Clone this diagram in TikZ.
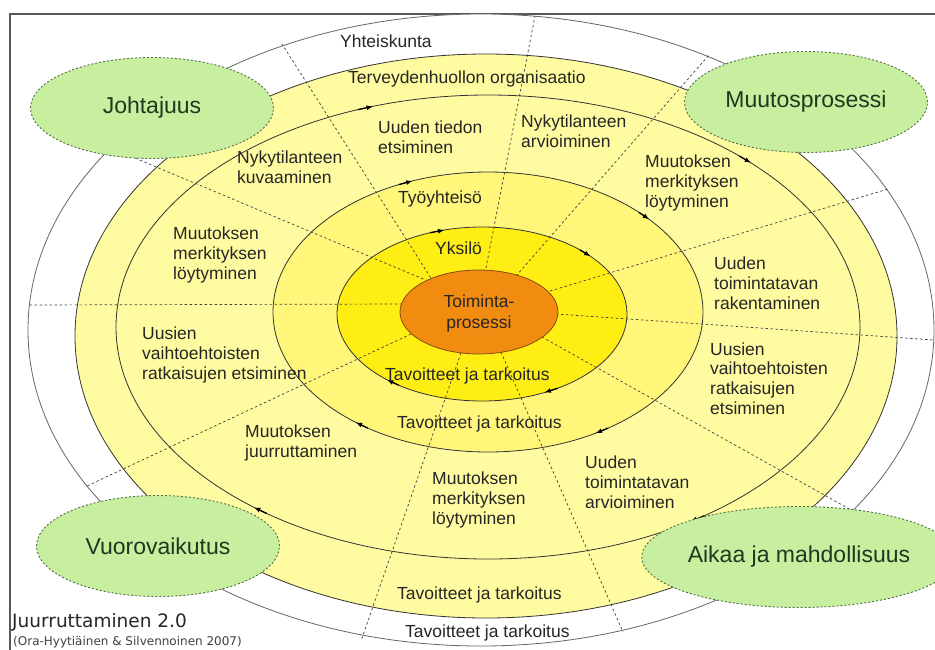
\documentclass[tikz,border=0pt]{standalone}
\usepackage{fontspec}
\setmainfont{Liberation Sans}
\newfontfamily\dejavu{DejaVu Sans}
\usetikzlibrary{shapes.geometric,arrows.meta}
\definecolor{ringpale}{HTML}{FFFBA0}
\definecolor{ringmid}{HTML}{FFF67A}
\definecolor{ringyel}{HTML}{FFEE14}
\definecolor{coreorange}{HTML}{F28C10}
\definecolor{coreedge}{HTML}{8A4A0A}
\definecolor{leafgreen}{HTML}{C8EEA0}
\definecolor{leafedge}{HTML}{4F6E45}
\definecolor{txt}{HTML}{262626}
\definecolor{gtxt}{HTML}{1E3A1E}
% #1 cx, #2 cy, #3 rx, #4 ry, #5 angle, #6 step
\newcommand\ringarrow[6]{%
  \draw[ringarr] ({#1+#3*cos(#5-#6)},{#2+#4*sin(#5-#6)}) -- ({#1+#3*cos(#5)},{#2+#4*sin(#5)});}
\begin{document}
\begin{tikzpicture}[x=1pt,y=-1pt,
  ring/.style={draw=black!80, line width=0.8pt},
  radial/.style={draw=black!75, dash pattern=on 2.5pt off 2.5pt, line width=0.7pt},
  ringarr/.style={-{Latex[length=6.5pt,width=5pt]}, line width=1.3pt, draw=black},
  lbl/.style={font=\fontsize{17.5}{19.8}\selectfont, text=txt, inner sep=0pt, align=left, anchor=west},
  clbl/.style={font=\fontsize{17.5}{21}\selectfont, text=txt, inner sep=0pt, align=center, anchor=center},
  bubble/.style={ellipse, draw=leafedge, dash pattern=on 2pt off 2pt, line width=0.9pt, fill=leafgreen, minimum width=243pt, minimum height=101pt, inner sep=0pt, font=\fontsize{23}{26}\selectfont, text=gtxt},
]
\useasboundingbox (0,0) rectangle (935,649);
\fill[white] (0,0) rectangle (935,649);
% frame
\draw[black!65, line width=1.5pt] (935,14) -- (10,14) -- (10,652);
% rings
\draw[ring, draw=black!60, fill=white] (481,330) ellipse [x radius=453, y radius=316];
\draw[ring, fill=ringpale] (486,336) ellipse [x radius=411, y radius=282];
\draw[ring, fill=ringpale] (488,327) ellipse [x radius=372, y radius=232];
\draw[ring, fill=ringmid] (488,312) ellipse [x radius=215, y radius=140];
\draw[ring, fill=ringyel] (482,314) ellipse [x radius=145, y radius=87];
% radial dashed lines
\draw[radial] (436,286) -- (282,44);
\draw[radial] (486,268) -- (535,16);
\draw[radial] (516,276) -- (709,55);
\draw[radial] (550,291) -- (888,189);
\draw[radial] (556,314) -- (934,340);
\draw[radial] (542,337) -- (860,515);
\draw[radial] (501,352) -- (623,632);
\draw[radial] (461,353) -- (361,641);
\draw[radial] (411,334) -- (87,486);
\draw[radial] (402,304) -- (28,305);
\draw[radial] (428,281) -- (111,148);
% core
\draw[line width=0.8pt, draw=coreedge, fill=coreorange] (479,312) ellipse [x radius=79, y radius=42];
% arrows (clockwise)
\ringarrow{488}{327}{372}{232}{252}{2.5}
\ringarrow{488}{327}{372}{232}{315}{2.5}
\ringarrow{488}{327}{372}{232}{57}{2.5}
\ringarrow{488}{327}{372}{232}{129}{2.5}
\ringarrow{488}{312}{215}{140}{249.5}{4}
\ringarrow{488}{312}{215}{140}{318.6}{4}
\ringarrow{488}{312}{215}{140}{60}{4}
\ringarrow{488}{312}{215}{140}{128}{4}
\ringarrow{482}{314}{145}{87}{255}{6}
\ringarrow{482}{314}{145}{87}{318.5}{6}
\ringarrow{482}{314}{145}{87}{64.5}{6}
\ringarrow{482}{314}{145}{87}{131}{6}
% labels
\node[lbl] (yht) at (340,41) {Yhteiskunta};
\node[lbl] (org) at (348,79) {Terveydenhuollon organisaatio};
\node[lbl] (uti) at (378,137) {Uuden tiedon\\etsiminen};
\node[lbl] (nya) at (521,131) {Nykytilanteen\\arvioiminen};
\node[lbl] (nyk) at (237,167) {Nykytilanteen\\kuvaaminen};
\node[lbl] (tyo) at (398,199) {Työyhteisö};
\node[lbl] (yks) at (435,248) {Yksilö};
\node[clbl] (toim) at (479,313) {Toiminta-\\prosessi};
\node[lbl] (mml1) at (645,183) {Muutoksen\\merkityksen\\löytyminen};
\node[lbl] (mml2) at (173,255) {Muutoksen\\merkityksen\\löytyminen};
\node[lbl] (utr) at (714,283) {Uuden\\toimintatavan\\rakentaminen};
\node[lbl] (uvr1) at (142,355) {Uusien\\vaihtoehtoisten\\ratkaisujen etsiminen};
\node[lbl] (uvr2) at (710,378.5) {Uusien\\vaihtoehtoisten\\ratkaisujen\\etsiminen};
\node[lbl] (tt1) at (385,376) {Tavoitteet ja tarkoitus};
\node[lbl] (tt2) at (397,424) {Tavoitteet ja tarkoitus};
\node[lbl] (mju) at (245,443) {Muutoksen\\juurruttaminen};
\node[lbl] (mml3) at (432,500) {Muutoksen\\merkityksen\\löytyminen};
\node[lbl] (uta) at (585,482) {Uuden\\toimintatavan\\arvioiminen};
\node[lbl] (tt3) at (397,595) {Tavoitteet ja tarkoitus};
\node[lbl] (tt4) at (405,633) {Tavoitteet ja tarkoitus};
% bubbles
\node[bubble] (joh) at (152,108) {Johtajuus};
\node[bubble] (muu) at (806,102) {Muutosprosessi};
\node[bubble] (vuo) at (158,546) {Vuorovaikutus};
\node[bubble] (aik) at (799,557) {Aikaa ja mahdollisuus};
% title
\node[anchor=base west, inner sep=0pt, font=\dejavu\fontsize{18.5}{20}\selectfont, text=txt] (title) at (12,627) {Juurruttaminen 2.0};
\node[anchor=base west, inner sep=0pt, font=\dejavu\fontsize{12}{14}\selectfont, text=black!75] (src) at (13,645.5) {(Ora-Hyytiäinen \& Silvennoinen 2007)};
\end{tikzpicture}
\end{document}
